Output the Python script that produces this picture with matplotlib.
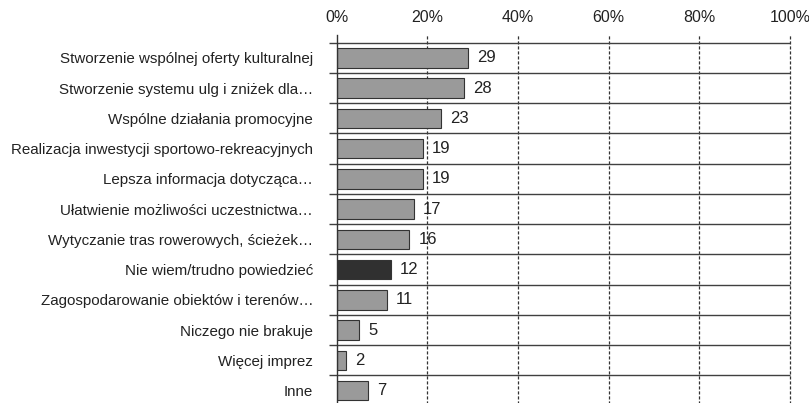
import matplotlib
matplotlib.use("Agg")
import matplotlib.pyplot as plt
from matplotlib import font_manager

# font - narrow sans if available
names = [f.name for f in font_manager.fontManager.ttflist]
fam = "Liberation Sans Narrow" if "Liberation Sans Narrow" in names else "Liberation Sans"
plt.rcParams['font.family'] = [fam, 'DejaVu Sans']

# data
categories = ["Stworzenie wspólnej oferty kulturalnej",
              "Stworzenie systemu ulg i zniżek dla…",
              "Wspólne działania promocyjne",
              "Realizacja inwestycji sportowo-rekreacyjnych",
              "Lepsza informacja dotycząca…",
              "Ułatwienie możliwości uczestnictwa…",
              "Wytyczanie tras rowerowych, ścieżek…",
              "Nie wiem/trudno powiedzieć",
              "Zagospodarowanie obiektów i terenów…",
              "Niczego nie brakuje",
              "Więcej imprez",
              "Inne"]
values = [29, 28, 23, 19, 19, 17, 16, 12, 11, 5, 2, 7]
highlight = "Nie wiem/trudno powiedzieć"
ticks = [0, 20, 40, 60, 80, 100]

fig = plt.figure(figsize=(8.09, 4.03), dpi=100)
ax = fig.add_axes([0.4162, -0.0067, 0.5603, 0.9007])

n = len(categories)
ypos = list(range(n))
cols = ['#303030' if c == highlight else '#9a9a9a' for c in categories]
ax.barh(ypos, values, height=0.64, color=cols, edgecolor='#333333', linewidth=0.8, zorder=3)
for y, v in zip(ypos, values):
    ax.text(v + 2, y, str(v), va='center', ha='left', fontsize=12, color='#222222')

ax.set_xlim(0, 100)
ax.set_ylim(n - 0.5, -0.5)

# row separators
for b in range(n + 1):
    ax.hlines(b - 0.5, -1.6, 100, color='#404040', lw=1, clip_on=False, zorder=2)

# dashed verticals
for t in ticks[1:]:
    ax.axvline(t, ymin=0, ymax=1.022, color='#333333', lw=0.9, ls=(0, (2.5, 1.5)), clip_on=False, zorder=1)
ax.axvline(0, ymin=0, ymax=1.022, color='#333333', lw=1, clip_on=False, zorder=4)

for s in ax.spines.values():
    s.set_visible(False)

ax.xaxis.tick_top()
ax.set_xticks(ticks)
ax.set_xticklabels([f"{t}%" for t in ticks])
ax.tick_params(axis='x', length=0, pad=13, labelsize=11.5, colors='#222222')
ax.set_yticks(ypos)
ax.set_yticklabels(categories)
ax.tick_params(axis='y', length=0, pad=17, labelsize=10.9, colors='#222222')

fig.savefig("out.png", dpi=100)
